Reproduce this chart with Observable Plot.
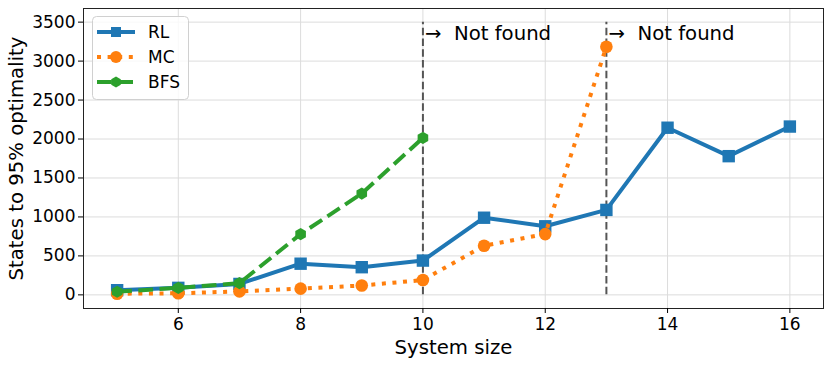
<!DOCTYPE html>
<html><head><meta charset="utf-8">
<script src="https://cdn.jsdelivr.net/npm/d3@7"></script>
<script src="https://cdn.jsdelivr.net/npm/@observablehq/plot@0.6"></script>
<style>
body{margin:0;background:#fff;font-family:"DejaVu Sans",sans-serif;}
#wrap{position:relative;width:831px;height:365px;}
#legend{position:absolute;left:0;top:0;pointer-events:none;}
</style></head>
<body><div id="wrap"></div>
<script>
// ---- data ----
const rlSizes  = [5, 6, 7, 8, 9, 10, 11, 12, 13, 14, 15, 16];
const rlValues = [60, 90, 140, 400, 355, 440, 990, 880, 1090, 2145, 1780, 2160];
const mcSizes  = [5, 6, 7, 8, 9, 10, 11, 12, 13];
const mcValues = [15, 20, 45, 80, 120, 190, 630, 780, 3185];
const bfsSizes  = [5, 6, 7, 8, 9, 10];
const bfsValues = [40, 90, 150, 780, 1300, 2015];
const cutoffSizes = [10, 13];
const cutoffLabel = "→\u00a0 Not found";
const cutoffTop = 3500;
const labelLevel = 3355;
const xTicks = [6, 8, 10, 12, 14, 16];
const yTicks = [0, 500, 1000, 1500, 2000, 2500, 3000, 3500];
const seriesNames = ["RL", "MC", "BFS"];
const colors = ["#1f77b4", "#ff7f0e", "#2ca02c"];

const rl = rlSizes.map((x, i) => ({x, y: rlValues[i]}));
const mc = mcSizes.map((x, i) => ({x, y: mcValues[i]}));
const bfs = bfsSizes.map((x, i) => ({x, y: bfsValues[i]}));

const chart = Plot.plot({
  width: 831, height: 365,
  marginLeft: 83, marginRight: 8, marginTop: 8, marginBottom: 57,
  style: {fontFamily: "DejaVu Sans", background: "#fff", color: "#000"},
  x: {domain: [4.45, 16.55]},
  y: {domain: [-175, 3675]},
  marks: [
    Plot.gridX(xTicks, {stroke: "#dcdcdc", strokeOpacity: 1, strokeWidth: 1}),
    Plot.gridY(yTicks, {stroke: "#dcdcdc", strokeOpacity: 1, strokeWidth: 1}),
    Plot.ruleX(cutoffSizes, {y1: 0, y2: cutoffTop, stroke: "#555", strokeWidth: 2, strokeDasharray: "7.5,3.3"}),
    Plot.line(rl, {x: "x", y: "y", stroke: colors[0], strokeWidth: 4}),
    Plot.dot(rl, {x: "x", y: "y", symbol: "square", r: 7, fill: colors[0], stroke: "none"}),
    Plot.line(mc, {x: "x", y: "y", stroke: colors[1], strokeWidth: 4, strokeDasharray: "4,6.6", strokeLinecap: "butt"}),
    Plot.dot(mc, {x: "x", y: "y", symbol: "circle", r: 6.3, fill: colors[1], stroke: "none"}),
    Plot.line(bfs, {x: "x", y: "y", stroke: colors[2], strokeWidth: 4, strokeDasharray: "14.8,6.4", strokeLinecap: "butt"}),
    Plot.dot(bfs, {x: "x", y: "y", symbol: "hexagon", r: 5.3, fill: colors[2], stroke: "none"}),
    Plot.text(cutoffSizes, {x: d => d, y: labelLevel, text: () => cutoffLabel, textAnchor: "start", dx: 2, fontSize: 19.7, fill: "#000"}),
    Plot.frame({stroke: "#222", strokeWidth: 1}),
    Plot.axisX(xTicks, {fontSize: 17, tickSize: 5, tickPadding: 4, label: "System size", labelAnchor: "center", labelOffset: 45, labelArrow: "none"}),
    Plot.axisY(yTicks, {fontSize: 17, tickSize: 5, tickPadding: 3, tickFormat: d3.format("d"), label: "States to 95% optimality", labelAnchor: "center", labelOffset: 75, labelArrow: "none"})
  ]
});
d3.select(chart).selectAll("g[aria-label='x-axis label'], g[aria-label='y-axis label']").attr("font-size", 19.7);
d3.select(chart).selectAll("g[aria-label='x-axis label'] text, g[aria-label='y-axis label'] text").attr("font-size", 19.7);
document.getElementById("wrap").appendChild(chart);

// ---- legend (inside the plot, top-left) ----
const lg = d3.select("#wrap").append("svg").attr("id", "legend").attr("width", 831).attr("height", 365);
lg.append("rect").attr("x", 92.5).attr("y", 16.5).attr("width", 96).attr("height", 83).attr("rx", 4)
  .attr("fill", "rgba(255,255,255,0.8)").attr("stroke", "#d0d0d0");
const dashes = [null, "4,6.6", "14.8,6.4"];
const syms = [d3.symbolSquare, d3.symbolCircle, null];
seriesNames.forEach((name, i) => {
  const cy = 32 + i * 25;
  lg.append("line").attr("x1", 97).attr("x2", 135).attr("y1", cy).attr("y2", cy)
    .attr("stroke", colors[i]).attr("stroke-width", 4).attr("stroke-dasharray", dashes[i]);
  if (i === 2) {
    const R = 5.5;
    const pts = d3.range(6).map(k => { const a = Math.PI / 2 + k * Math.PI / 3; return [116 + R * Math.cos(a), cy - R * Math.sin(a)]; });
    lg.append("polygon").attr("points", pts.map(p => p.join(",")).join(" ")).attr("fill", colors[i]);
  } else {
    lg.append("path").attr("d", d3.symbol(syms[i], i === 0 ? 100 : 110)()).attr("transform", `translate(116,${cy})`).attr("fill", colors[i]);
  }
  lg.append("text").attr("x", 148).attr("y", cy).attr("dy", "0.36em").attr("font-size", 17)
    .attr("font-family", "DejaVu Sans").text(name);
});
</script>
</body></html>
